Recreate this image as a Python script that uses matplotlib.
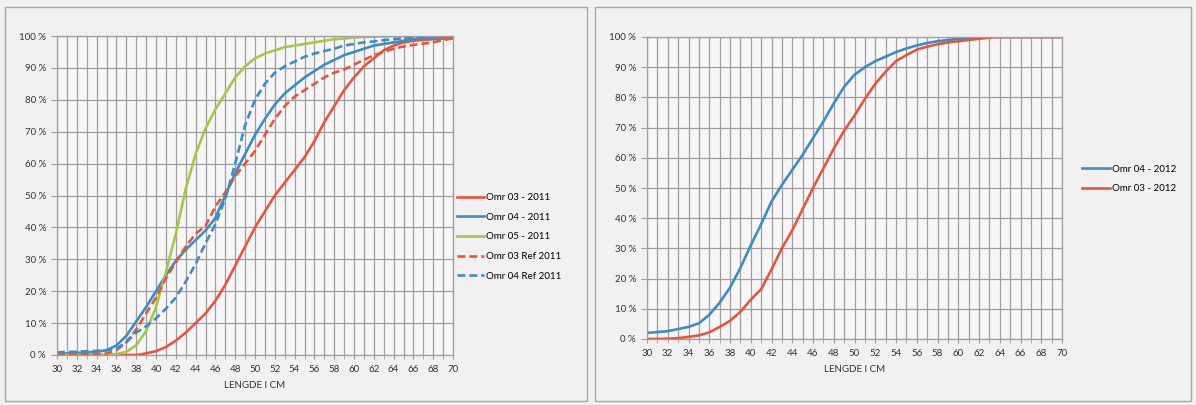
import numpy as np
import matplotlib
matplotlib.use("Agg")
import matplotlib.pyplot as plt
from matplotlib.patches import Rectangle

plt.rcParams['font.family'] = ['Lato', 'DejaVu Sans']

# lengths in cm
lengths = list(range(30, 71))

# cumulative share, per cent -- 2011
omr03_2011 = [0, 0, 0, 0, 0, 0, 0, 0, 0, 0.5, 1.2, 2.5, 4.5, 7, 10, 13, 17, 22, 28, 34, 40,
              45, 50, 54, 58, 62, 67, 73, 78, 83, 87, 90.5, 93, 95.5, 97, 98, 98.5, 98.8, 99, 99.2, 99.4]
omr04_2011 = [0.5, 0.5, 0.7, 0.8, 1, 1.5, 3, 6, 10.5, 15, 20, 25, 29.5, 33, 36, 39, 43, 50, 57, 63, 69,
              74, 78.5, 82, 84.5, 87, 89, 91, 92.5, 94, 95, 96, 97, 97.5, 98, 98.5, 99, 99.3, 99.5, 99.7, 100]
omr05_2011 = [0, 0, 0, 0, 0, 0, 0.3, 1, 3, 7.5, 15, 26, 38, 52, 63, 71, 77, 82, 87, 90.5, 93,
              94.5, 95.5, 96.5, 97, 97.5, 98, 98.5, 99, 99.2, 99.5, 99.7, 99.8, 99.9, 100, 100, 100, 100, 100, 100, 100]
omr03_ref_2011 = [0.3, 0.3, 0.3, 0.3, 0.3, 0.5, 1.5, 4, 8, 13, 18, 24, 29, 34, 38, 40.5, 46.5, 51, 56, 60, 64,
                  69, 74, 78, 81, 83, 85, 87, 88.5, 89.5, 91, 92.5, 94, 95, 96, 96.7, 97.2, 97.6, 98, 98.7, 99.3]
omr04_ref_2011 = [0.8, 1, 1, 1.2, 1.3, 1.5, 2, 4, 7, 9, 11.5, 14.5, 18, 23, 28.5, 35, 41, 49, 60, 72, 80,
                  85, 88.5, 90.5, 92, 93.5, 94.5, 95.3, 96, 97, 97.5, 98, 98.3, 98.7, 99, 99.3, 99.6, 99.8, 99.9, 100, 100]

# cumulative share, per cent -- 2012
omr04_2012 = [2, 2.3, 2.6, 3.3, 4, 5.2, 8, 12, 17, 23.5, 31, 38, 45.5, 51, 56, 61, 66.5, 72, 78, 83.5, 87.5,
              90, 92, 93.5, 95, 96.2, 97.2, 98, 98.6, 99, 99.4, 99.6, 99.8, 100, 100, 100, 100, 100, 100, 100, 100]
omr03_2012 = [0, 0, 0.1, 0.3, 0.7, 1.2, 2.2, 4, 6, 9, 13, 16.5, 23, 30, 36, 43, 50, 56.5, 63, 69, 74,
              79.5, 84.5, 88.5, 92, 94, 95.8, 96.8, 97.6, 98.2, 98.6, 99, 99.4, 99.8, 100, 100, 100, 100, 100, 100, 100]

xticks = list(range(30, 71, 2))
yticks = list(range(0, 101, 10))
xlabel = "LENGDE I CM"

RED = '#E4563F'
BLUE = '#3D8DC3'
GREEN = '#A5C74E'
BG = '#F3F0F2'

fig = plt.figure(figsize=(11.96, 4.05), dpi=100, facecolor=BG)

# outer frames of the two charts
for x0, x1 in [(5, 587), (595, 1191)]:
    fig.add_artist(Rectangle((x0 / 1196, 1 - 401 / 405), (x1 - x0) / 1196, (401 - 7) / 405,
                             transform=fig.transFigure, fill=False, edgecolor='#A8A6A8', lw=1.0))


def setup(ax):
    ax.set_facecolor('#F8F6F7')
    ax.set_xlim(30, 70)
    ax.set_ylim(0, 100)
    ax.set_xticks(xticks)
    ax.set_xticks(lengths, minor=True)
    ax.set_yticks(yticks)
    ax.set_yticklabels(["%d %%" % v for v in yticks])
    ax.grid(True, which='both', axis='x', color='#A09DA0', lw=0.9)
    ax.grid(True, which='major', axis='y', color='#A09DA0', lw=0.9)
    ax.tick_params(which='both', length=3, color='#A09DA0', labelsize=7, labelcolor='#333333', pad=4)
    ax.tick_params(axis='y', length=4)
    for s in ax.spines.values():
        s.set_color('#A09DA0')
        s.set_linewidth(0.9)
    ax.set_axisbelow(True)
    ax.set_xlabel(xlabel, fontsize=7, color='#333333', labelpad=5)


ax1 = fig.add_axes([57 / 1196, 1 - 355 / 405, 396 / 1196, 319 / 405])
setup(ax1)
lw = 1.9
ax1.plot(lengths, omr03_2011, color=RED, lw=lw, label='Omr 03 - 2011')
ax1.plot(lengths, omr04_2011, color=BLUE, lw=lw, label='Omr 04 - 2011')
ax1.plot(lengths, omr05_2011, color=GREEN, lw=lw, label='Omr 05 - 2011')
ax1.plot(lengths, omr03_ref_2011, color=RED, lw=lw, ls=(0, (3, 1.5)), label='Omr 03 Ref 2011')
ax1.plot(lengths, omr04_ref_2011, color=BLUE, lw=lw, ls=(0, (3, 1.5)), label='Omr 04 Ref 2011')
ax1.legend(loc='center left', bbox_to_anchor=(1.0, 0.37), frameon=False, fontsize=7,
           handlelength=2.8, handletextpad=0.2, labelspacing=1.1, borderaxespad=0.0)

ax2 = fig.add_axes([647 / 1196, 1 - 339 / 405, 415 / 1196, 302 / 405])
setup(ax2)
ax2.plot(lengths, omr04_2012, color=BLUE, lw=lw, label='Omr 04 - 2012')
ax2.plot(lengths, omr03_2012, color=RED, lw=lw, label='Omr 03 - 2012')
ax2.legend(loc='center left', bbox_to_anchor=(1.04, 0.53), frameon=False, fontsize=7,
           handlelength=2.8, handletextpad=0.2, labelspacing=1.1, borderaxespad=0.0)

fig.savefig('out.png', dpi=100, facecolor=BG)
